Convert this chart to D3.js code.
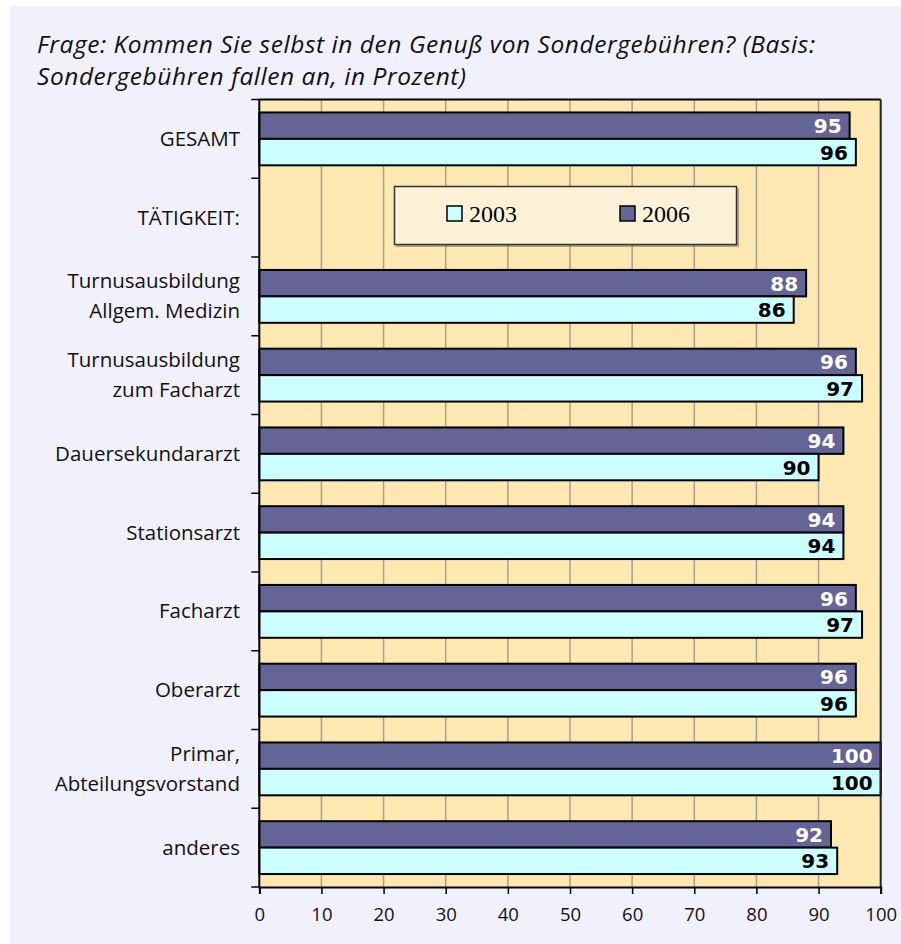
<!DOCTYPE html>
<html><head><meta charset="utf-8">
<script src="https://cdn.jsdelivr.net/npm/d3@7"></script>
<style>
html,body{margin:0;padding:0;background:#fff;}
svg{display:block;}
</style></head>
<body>
<script>
const categories = [
  ["GESAMT"],
  ["TÄTIGKEIT:"],
  ["Turnusausbildung","Allgem. Medizin"],
  ["Turnusausbildung","zum Facharzt"],
  ["Dauersekundararzt"],
  ["Stationsarzt"],
  ["Facharzt"],
  ["Oberarzt"],
  ["Primar,","Abteilungsvorstand"],
  ["anderes"]
];
const values2006 = [95, null, 88, 96, 94, 94, 96, 96, 100, 92];
const values2003 = [96, null, 86, 97, 90, 94, 97, 96, 100, 93];
const seriesNames = ["2006", "2003"];
const xTicks = [0,10,20,30,40,50,60,70,80,90,100];
const titleLines = ["Frage: Kommen Sie selbst in den Genuß von Sondergebühren? (Basis:",
                    "Sondergebühren fallen an, in Prozent)"];

const W = 901, H = 944;
const colors = {"2006": "#646496", "2003": "#ccffff"};
const labelColors = {"2006": "#ffffff", "2003": "#000000"};
const sans = "'Open Sans', 'Noto Sans', sans-serif";

const svg = d3.select("body").append("svg").attr("width", W).attr("height", H);
svg.append("rect").attr("x", 10).attr("y", 6).attr("width", W - 10).attr("height", H - 6).attr("fill", "#f1f0fd");

const m = {left: 259.3, right: 880.7, top: 99.5, bottom: 887};
const x = d3.scaleLinear().domain([0, 100]).range([m.left, m.right]);
const idx = categories.map((d, i) => i);
const y0 = d3.scaleBand().domain(idx).range([m.top, m.bottom]).padding(0);
const y1 = d3.scaleBand().domain(seriesNames).range([0, y0.bandwidth()]).paddingInner(0).paddingOuter(0.49);

// title
svg.append("g").selectAll("text").data(titleLines).join("text")
  .attr("x", 37).attr("y", (d, i) => 53 + i * 32)
  .attr("font-family", sans).attr("font-style", "italic").attr("font-size", 24.5)
  .attr("letter-spacing", 0.55)
  .attr("fill", "#111").text(d => d);

// plot background
svg.append("rect").attr("x", m.left).attr("y", m.top).attr("width", m.right - m.left).attr("height", m.bottom - m.top)
  .attr("fill", "#fde8b2");

// gridlines
svg.append("g").selectAll("line").data(xTicks.slice(1, -1)).join("line")
  .attr("x1", d => x(d)).attr("x2", d => x(d)).attr("y1", m.top).attr("y2", m.bottom)
  .attr("stroke", "#a8a190").attr("stroke-width", 1.5);

// legend
const lg = svg.append("g");
lg.append("rect").attr("x", 396).attr("y", 188).attr("width", 343).attr("height", 59).attr("fill", "#6b6252").attr("opacity", 0.5);
lg.append("rect").attr("x", 394.5).attr("y", 186.5).attr("width", 342).attr("height", 58)
  .attr("fill", "#fdf2d7").attr("stroke", "#333").attr("stroke-width", 1.5);
const legendItems = [{name: "2003", x: 447}, {name: "2006", x: 620}];
legendItems.forEach(it => {
  lg.append("rect").attr("x", it.x).attr("y", 206).attr("width", 15).attr("height", 15)
    .attr("fill", colors[it.name]).attr("stroke", "#000").attr("stroke-width", 1.5);
  lg.append("text").attr("x", it.x + 22).attr("y", 221.5).attr("font-family", "'Liberation Serif', serif")
    .attr("font-size", 24).attr("fill", "#000").text(it.name);
});

// bars
const rows = idx.map(i => ({i, "2006": values2006[i], "2003": values2003[i]}));
const groups = svg.append("g").selectAll("g").data(rows).join("g")
  .attr("transform", d => `translate(0,${y0(d.i)})`);
seriesNames.forEach(s => {
  groups.filter(d => d[s] != null).append("rect")
    .attr("x", x(0)).attr("y", y1(s)).attr("width", d => x(d[s]) - x(0)).attr("height", y1.bandwidth())
    .attr("fill", colors[s]).attr("stroke", "#000").attr("stroke-width", 2);
  groups.filter(d => d[s] != null).append("text")
    .attr("x", d => x(d[s]) - 8).attr("y", y1(s) + y1.bandwidth() / 2 + 7.5)
    .attr("text-anchor", "end").attr("font-family", "'DejaVu Sans', sans-serif").attr("font-weight", "bold").attr("font-size", 20)
    .attr("fill", labelColors[s]).text(d => d[s]);
});

// frame lines
svg.append("line").attr("x1", m.left).attr("x2", m.right).attr("y1", m.top).attr("y2", m.top).attr("stroke", "#000").attr("stroke-width", 2);
svg.append("line").attr("x1", m.right).attr("x2", m.right).attr("y1", m.top).attr("y2", m.bottom).attr("stroke", "#222").attr("stroke-width", 2);

// x axis
const xAxis = svg.append("g").attr("transform", `translate(0,${m.bottom})`)
  .call(d3.axisBottom(x).tickValues(xTicks).tickSize(7).tickPadding(14).tickFormat(d3.format("d")));
xAxis.select(".domain").attr("stroke", "#000").attr("stroke-width", 2);
xAxis.selectAll(".tick line").attr("stroke", "#000").attr("stroke-width", 1.5);
xAxis.selectAll("text").attr("font-family", sans).attr("font-size", 18.5).attr("fill", "#111");

// y axis ticks at band boundaries
const bounds = idx.map(i => y0(i)).concat([m.bottom]);
svg.append("line").attr("x1", m.left).attr("x2", m.left).attr("y1", m.top).attr("y2", m.bottom).attr("stroke", "#000").attr("stroke-width", 2);
svg.append("g").selectAll("line").data(bounds).join("line")
  .attr("x1", m.left - 8).attr("x2", m.left).attr("y1", d => d).attr("y2", d => d)
  .attr("stroke", "#000").attr("stroke-width", 1.5);

// category labels
const cl = svg.append("g").selectAll("text").data(categories).join("text")
  .attr("text-anchor", "end").attr("font-family", sans).attr("font-size", 20.5).attr("fill", "#111")
  .attr("transform", (d, i) => `translate(240,${y0(i) + y0.bandwidth() / 2})`);
cl.selectAll("tspan").data(d => d.map((t, j) => ({t, j, n: d.length}))).join("tspan")
  .attr("x", 0).attr("y", d => (d.j - (d.n - 1) / 2) * 30 + 7).text(d => d.t);
</script>
</body></html>
